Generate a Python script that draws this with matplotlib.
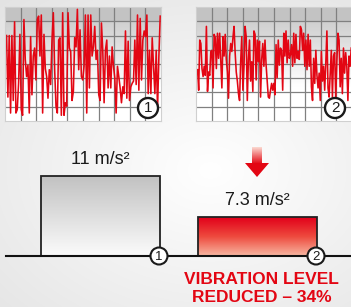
import numpy as np
import matplotlib
matplotlib.use("Agg")
import matplotlib.pyplot as plt
from matplotlib.patches import Circle, Polygon
from matplotlib.colors import LinearSegmentedColormap
from matplotlib import font_manager

# ---------------- data ----------------
signal_before = [75, 21, 75, 7, 75, 18, 87, 7, 10, 33, 76, 10, 5, 89, 54, 39, 49, 7, 74, 23,
                 57, 64, 36, 89, 92, 57, 93, 7, 76, 46, 39, 20, 45, 32, 71, 95, 45, 13, 7, 71,
                 73, 5, 95, 5, 16, 13, 95, 64, 61, 18, 26, 73, 65, 98, 45, 80, 39, 36, 48, 93,
                 7, 93, 29, 93, 57, 65, 83, 54, 62, 23, 18, 86, 62, 16, 62, 71, 29, 57, 29, 65,
                 48, 38, 7, 48, 39, 29, 16, 30, 24, 79, 20, 70, 18, 30, 33, 35, 71, 32, 93, 27,
                 90, 36, 71, 79, 74, 93, 24, 62, 24, 73, 48, 24, 62, 10, 57, 92]
signal_after = [45, 27, 71, 68, 46, 39, 48, 40, 83, 26, 43, 40, 61, 62, 29, 76, 73, 46, 77, 55,
                77, 54, 29, 74, 57, 76, 54, 43, 20, 57, 68, 61, 73, 83, 60, 43, 35, 24, 18, 52,
                74, 27, 48, 83, 74, 18, 54, 71, 35, 52, 26, 79, 76, 36, 71, 52, 70, 21, 54, 68,
                48, 71, 49, 35, 21, 20, 27, 33, 27, 33, 23, 67, 38, 71, 49, 64, 62, 27, 77, 57,
                79, 51, 71, 55, 58, 67, 48, 77, 51, 76, 55, 61, 54, 83, 80, 62, 77, 48, 71, 45,
                76, 48, 71, 30, 18, 55, 33, 62, 40, 29, 42, 18, 61, 35, 48, 27, 51, 79, 29, 21,
                42, 62, 21, 57, 60, 20, 52, 77, 71, 30, 55, 24, 64, 42, 60, 48, 18, 57, 48, 64]
levels = [11.0, 7.3]
level_labels = ["11 m/s\u00b2", "7.3 m/s\u00b2"]
markers = ["1", "2"]
reduction_text = ["VIBRATION LEVEL", "REDUCED \u2013 34%"]

W, H = 351, 307
fig = plt.figure(figsize=(W / 100, H / 100), dpi=100)

names = {f.name for f in font_manager.fontManager.ttflist}
NARROW = "Liberation Sans Narrow" if "Liberation Sans Narrow" in names else "Liberation Sans"
RED = "#e30613"

# ---------------- background ----------------
bg = fig.add_axes([0, 0, 1, 1])
bg.axis("off")
yy, xx = np.mgrid[0:H, 0:W]
d = np.sqrt(((xx - 210) / 260.0) ** 2 + ((yy - 170) / 190.0) ** 2)
shade = 1.0 - 0.09 * np.clip(d, 0, 1.5)
bg.imshow(np.dstack([shade, shade, shade]), extent=(0, W, H, 0), aspect="auto", zorder=0)
bg.set_xlim(0, W)
bg.set_ylim(H, 0)


def px_axes(x0, y0, x1, y1):
    return fig.add_axes([x0 / W, 1 - y1 / H, (x1 - x0) / W, (y1 - y0) / H])


# ---------------- signal panels ----------------
panel_cmap = LinearSegmentedColormap.from_list("pn", [(0, "#ffffff"), (0.35, "#ffffff"), (1, "#cfcfcf")])
for (x0, x1), sig in zip([(5, 161), (196, 352)], [signal_before, signal_after]):
    ax = px_axes(x0, 7, x1, 121)
    grad = np.linspace(0, 1, 200).reshape(-1, 1)
    ax.imshow(grad, cmap=panel_cmap, origin="lower", extent=(0, 10, 0, 87.5), aspect="auto", zorder=0)
    ax.axhspan(87.5, 100, facecolor="#c3c3c3", edgecolor="none", zorder=0.5)
    ax.set_xlim(0, 10)
    ax.set_ylim(0, 100)
    for gx in range(1, 10):
        ax.axvline(gx, color="#808080", lw=0.9, zorder=1)
    for gy in range(1, 8):
        ax.axhline(gy * 100 / 8, color="#808080", lw=0.9, zorder=1)
    xs = np.linspace(0.1, 9.95, len(sig))
    ax.plot(xs, sig, color=RED, lw=1.15, zorder=2)
    for s in ax.spines.values():
        s.set_color("#d0d0d0")
        s.set_linewidth(0.8)
    ax.set_xticks([])
    ax.set_yticks([])

# ---------------- bars ----------------
axis_min = 3.8           # truncated value axis: baseline value
px_per_unit = 11.1       # pixels per m/s^2
baseline_px = 256
ymin = axis_min - (H - baseline_px) / px_per_unit
ymax = axis_min + baseline_px / px_per_unit
axb = fig.add_axes([0, 0, 1, 1], facecolor="none")
axb.axis("off")

centers = [100.5, 257.5]
bw = 119
bar_cmaps = [
    LinearSegmentedColormap.from_list("g", ["#fbfbfb", "#c2c2c2"]),
    LinearSegmentedColormap.from_list("r", ["#f7b7a2", "#ee4a3e", "#e2001a"]),
]
bars = axb.bar(centers, [v - axis_min for v in levels], bottom=axis_min, width=bw,
               facecolor="none", edgecolor="#222222", lw=1.3, zorder=5)
for b, cm in zip(bars, bar_cmaps):
    x, y = b.get_x(), b.get_y()
    axb.imshow(np.linspace(0, 1, 100).reshape(-1, 1), cmap=cm, origin="lower",
               extent=(x, x + b.get_width(), y, y + b.get_height()), aspect="auto", zorder=4)
axb.set_xlim(0, W)
axb.set_ylim(ymin, ymax)
axb.axhline(axis_min, xmin=6 / W, xmax=1, color="#111111", lw=1.5, zorder=6)

for b, lab in zip(bars, level_labels):
    axb.annotate(lab, (b.get_x() + b.get_width() / 2, b.get_y() + b.get_height()), xytext=(0, 6),
                 textcoords="offset points", ha="center", va="bottom", fontsize=13, family=NARROW,
                 color="#1a1a1a", zorder=8)

# ---------------- overlay (arrow, markers, text) ----------------
ov = fig.add_axes([0, 0, 1, 1], facecolor="none")
ov.axis("off")
arrow_x = 257
shaft = LinearSegmentedColormap.from_list("s", ["#fbd9d0", RED])
ov.imshow(np.linspace(0, 1, 50).reshape(-1, 1), cmap=shaft, origin="upper",
          extent=(arrow_x - 5, arrow_x + 5, 164, 147), aspect="auto", zorder=7)
ov.add_patch(Polygon([[arrow_x - 12, 163], [arrow_x + 12, 163], [arrow_x, 177]],
                     closed=True, facecolor=RED, edgecolor="none", zorder=7))

for cx, lab in zip([148, 335], markers):
    ov.add_patch(Circle((cx, 108), 10, facecolor="white", edgecolor="#1a1a1a", lw=1.7, zorder=20))
    ov.text(cx, 108.5, lab, ha="center", va="center", fontsize=11, color="#1a1a1a",
            family="Liberation Sans", zorder=21)

for b, m in zip(bars, markers):
    ex = b.get_x() + b.get_width() - 1
    ov.add_patch(Circle((ex, baseline_px), 8.5, facecolor="white", edgecolor="#1a1a1a", lw=1.5, zorder=20))
    ov.text(ex, baseline_px + 0.5, m, ha="center", va="center", fontsize=9.5, color="#1a1a1a",
            family="Liberation Sans", zorder=21)

ov.text(261, 280, reduction_text[0], ha="center", va="center", fontsize=12.5, fontweight="bold",
        family=NARROW, color=RED, zorder=9)
ov.text(262, 297, reduction_text[1], ha="center", va="center", fontsize=12.5, fontweight="bold",
        family=NARROW, color=RED, zorder=9)
ov.set_xlim(0, W)
ov.set_ylim(H, 0)

fig.savefig("out.png", dpi=100)
